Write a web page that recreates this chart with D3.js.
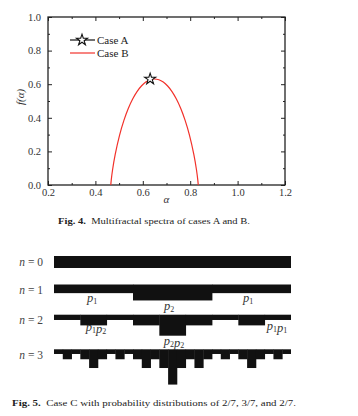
<!DOCTYPE html>
<html><head><meta charset="utf-8">
<script src="https://cdn.jsdelivr.net/npm/d3@7"></script>
<style>body{margin:0;background:#fff} svg{display:block}</style>
</head><body>
<script>
// ---------- Fig. 4 data ----------
const alphaB = [0.4649,0.4668,0.4723,0.4834,0.5018,0.5203,0.5387,0.5572,0.5756,0.5941,0.6125,0.6310,0.6495,0.6679,0.6864,0.7048,0.7233,0.7417,0.7602,0.7786,0.7971,0.8155,0.8266,0.8321,0.8340];
const fB     = [0.0000,0.0287,0.0892,0.1807,0.2959,0.3848,0.4555,0.5119,0.5561,0.5893,0.6126,0.6264,0.6309,0.6264,0.6126,0.5893,0.5561,0.5119,0.4555,0.3848,0.2959,0.1807,0.0892,0.0287,0.0000];
const alphaA = [0.631];
const fA     = [0.631];
const xMajor = [0.2,0.4,0.6,0.8,1.0,1.2];
const xMinor = [0.3,0.5,0.7,0.9,1.1];
const yMajor = [0.0,0.2,0.4,0.6,0.8,1.0];
const yMinor = [0.1,0.3,0.5,0.7,0.9];
const seriesNames = ["Case A","Case B"];

// ---------- Fig. 5 data ----------
const rowLabels = ["0","1","2","3"];
const probs = [2/7, 3/7, 2/7];       // p1, p2, p1
const depth0 = [1.0];
const depth1 = [0.72, 1.33];
const depth2 = [0.44, 0.89, 1.75];
const depth3 = [0.39, 0.83, 1.56, 2.94];
const depths = [depth0, depth1, depth2, depth3];

const SERIF = "'Liberation Serif','Times New Roman',serif";
const W = 358, H = 416;
const svg = d3.select("body").append("svg").attr("width", W).attr("height", H)
  .attr("font-family", SERIF).style("font-family", SERIF);
svg.append("rect").attr("width", W).attr("height", H).attr("fill", "#fff");

// ---------- Fig. 4 ----------
const L = 48, R = 285, T = 17, B = 185;
const x = d3.scaleLinear().domain([0.2, 1.2]).range([L, R]);
const y = d3.scaleLinear().domain([0, 1]).range([B, T]);
const g = svg.append("g");

function axis(gen, tr, ticks, size, labels, pad) {
  const a = gen.tickValues(ticks).tickSizeInner(-size).tickSizeOuter(0).tickPadding(pad);
  if (!labels) a.tickFormat("");
  else a.tickFormat(d3.format(".1f"));
  const s = g.append("g").attr("transform", tr).call(a);
  s.attr("font-family", SERIF).attr("font-size", 10);
  s.select(".domain").remove();
  s.selectAll("line").attr("stroke", "#222").attr("stroke-width", 1);
  s.selectAll("text").attr("fill", "#333").style("font-size", "10.5px").style("font-family", SERIF);
  return s;
}
axis(d3.axisBottom(x), `translate(0,${B})`, xMajor, 4, true, 4);
axis(d3.axisBottom(x), `translate(0,${B})`, xMinor, 2, false, 4);
axis(d3.axisTop(x), `translate(0,${T})`, xMajor, 4, false, 4);
axis(d3.axisTop(x), `translate(0,${T})`, xMinor, 2, false, 4);
axis(d3.axisLeft(y), `translate(${L},0)`, yMajor, 4, true, 7);
axis(d3.axisLeft(y), `translate(${L},0)`, yMinor, 2, false, 7);
axis(d3.axisRight(y), `translate(${R},0)`, yMajor, 4, false, 4);
axis(d3.axisRight(y), `translate(${R},0)`, yMinor, 2, false, 4);

g.append("rect").attr("x", L).attr("y", T).attr("width", R - L).attr("height", B - T)
  .attr("fill", "none").attr("stroke", "#222").attr("stroke-width", 1.3);

// curve B
const ptsB = alphaB.map((a, i) => [a, fB[i]]);
g.append("path").datum(ptsB)
  .attr("d", d3.line().x(d => x(d[0])).y(d => y(d[1])).curve(d3.curveCatmullRom))
  .attr("fill", "none").attr("stroke", "#f2312a").attr("stroke-width", 1.2);

// case A star
const star = d3.symbol().type(d3.symbolStar).size(38);
g.selectAll(".starA").data(alphaA.map((a, i) => [a, fA[i]])).join("path")
  .attr("transform", d => `translate(${x(d[0])},${y(d[1])})`)
  .attr("d", star).attr("fill", "#fff").attr("stroke", "#111").attr("stroke-width", 1.1);

// legend
const lg = g.append("g");
lg.append("line").attr("x1", 70).attr("x2", 95).attr("y1", 40).attr("y2", 40).attr("stroke", "#111").attr("stroke-width", 1.2);
lg.append("path").attr("transform", "translate(82,40)").attr("d", star).attr("fill", "#fff").attr("stroke", "#111").attr("stroke-width", 1.1);
lg.append("line").attr("x1", 70).attr("x2", 95).attr("y1", 53).attr("y2", 53).attr("stroke", "#f2312a").attr("stroke-width", 1.2);
lg.selectAll("text").data(seriesNames).join("text")
  .attr("x", 97).attr("y", (d, i) => 44 + i * 13).text(d => d)
  .attr("fill", "#222").style("font-size", "11px");

// axis titles
g.append("text").attr("x", (L + R) / 2).attr("y", 203).attr("text-anchor", "middle")
  .style("font-size", "11px").style("font-style", "italic").attr("fill", "#333").text("α");
g.append("text").attr("transform", `translate(24,${(T + B) / 2 - 4}) rotate(-90)`).attr("text-anchor", "middle")
  .style("font-size", "11px").style("font-style", "italic").attr("fill", "#333").text("f(α)");

// caption 4
const c4 = svg.append("text").attr("x", 58).attr("y", 224).style("font-size", "9px").attr("fill", "#222")
  .attr("textLength", 192).attr("lengthAdjust", "spacingAndGlyphs");
c4.append("tspan").style("font-weight", "bold").text("Fig. 4.");
c4.append("tspan").text("\u2002Multifractal spectra of cases A and B.");

// ---------- Fig. 5 ----------
const xb = d3.scaleLinear().domain([0, 1]).range([54, 291]);
const depthPx = d3.scaleLinear().domain([0, 1]).range([0, 12]);
const rowTop = [256, 284.5, 314.7, 349.3];

function countMiddle(i, n) {
  let k = 0;
  for (let j = 0; j < n; j++) { if (i % 3 === 1) k++; i = Math.floor(i / 3); }
  return k;
}
rowLabels.forEach((lab, n) => {
  const m = Math.pow(3, n);
  const cells = d3.range(m).map(i => ({ i, k: countMiddle(i, n) }));
  const rg = svg.append("g");
  rg.selectAll("rect").data(cells).join("rect")
    .attr("x", d => xb(d.i / m))
    .attr("width", d => xb((d.i + 1) / m) - xb(d.i / m) + (d.i < m - 1 ? 0.4 : 0))
    .attr("y", rowTop[n])
    .attr("height", d => depthPx(depths[n][d.k]))
    .attr("fill", "#111");
  const t = svg.append("text").attr("x", 43).attr("y", rowTop[n] + 9.5).attr("text-anchor", "end")
    .style("font-size", "11.5px").attr("fill", "#444");
  t.append("tspan").style("font-style", "italic").text("n");
  t.append("tspan").text(" = " + lab);
});

// p labels
function pLabel(cx, by, subs) {
  const t = svg.append("text").attr("x", cx).attr("y", by).attr("text-anchor", "middle")
    .style("font-size", "12.5px").attr("fill", "#333");
  subs.forEach(s => {
    t.append("tspan").style("font-style", "italic").text("p");
    t.append("tspan").style("font-size", "8px").attr("dy", 1.5).text(s);
    t.append("tspan").attr("dy", -1.5).text("");
  });
}
pLabel(92, 302, ["1"]);
pLabel(169, 310, ["2"]);
pLabel(248, 302, ["1"]);
pLabel(96, 331, ["1", "2"]);
pLabel(174, 345, ["2", "2"]);
pLabel(277, 330, ["1", "1"]);

// caption 5
const c5 = svg.append("text").attr("x", 12).attr("y", 406).style("font-size", "9px").attr("fill", "#222")
  .attr("textLength", 284).attr("lengthAdjust", "spacingAndGlyphs");
c5.append("tspan").style("font-weight", "bold").text("Fig. 5.");
c5.append("tspan").text("\u2002Case C with probability distributions of 2/7, 3/7, and 2/7.");
</script>
</body></html>
